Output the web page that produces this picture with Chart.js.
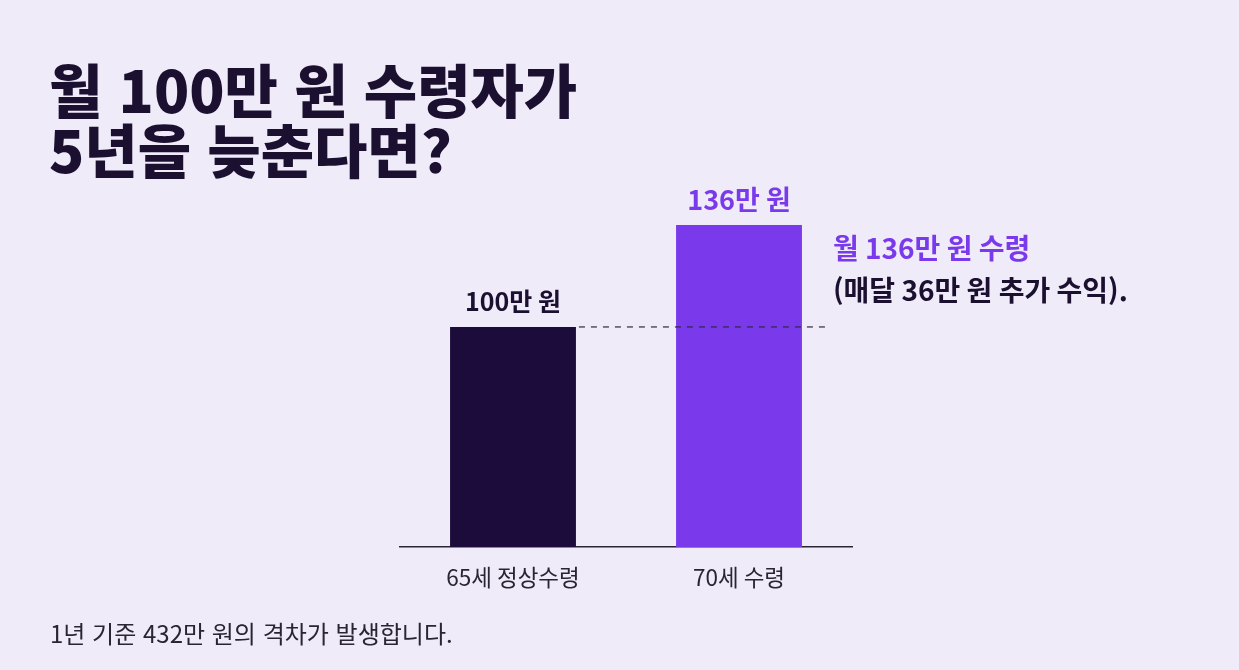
<!DOCTYPE html>
<html lang="ko">
<head>
<meta charset="utf-8">
<script src="https://cdn.jsdelivr.net/npm/chart.js@4"></script>
<style>
  html, body { margin: 0; padding: 0; background: #EFEBF9; }
  #wrap { position: relative; width: 1239px; height: 670px; overflow: hidden; font-family: "Noto Sans CJK KR", "Noto Sans", sans-serif; }
  #chart { position: absolute; left: 0; top: 0; }
  h1 { position: absolute; left: 49px; top: 58px; margin: 0; font-size: 58px; line-height: 60px; font-weight: 900; color: #1B1030; letter-spacing: 0; }
  p { position: absolute; left: 50px; top: 617px; margin: 0; font-size: 24px; line-height: 32px; color: #2A2533; }
</style>
</head>
<body>
<div id="wrap">
  <h1 id="title"></h1>
  <canvas id="chart" width="1239" height="670"></canvas>
  <p id="note"></p>
</div>
<script>
// data (unit: 만 원 per month)
const categories = ["65세 정상수령", "70세 수령"];
const monthly = [100, 136];
const barColors = ["#1B0C3B", "#7A3AEC"];
const labelColors = ["#1B1030", "#7A3AEC"];

const extra = monthly[1] - monthly[0];

document.getElementById("title").innerHTML =
  "월 " + monthly[0] + "만 원 수령자가<br>5년을 늦춘다면?";
document.getElementById("note").textContent =
  "1년 기준 " + extra * 12 + "만 원의 격차가 발생합니다.";

const fontFamily = '"Noto Sans CJK KR", "Noto Sans", sans-serif';

// value labels, dashed reference line and the side note
const labelPlugin = {
  id: "barLabels",
  afterDatasetsDraw(chart) {
    const ctx = chart.ctx;
    const bars = chart.getDatasetMeta(0).data;
    const yScale = chart.scales.y;
    ctx.save();

    // dashed line at the 65세 level
    const yRef = yScale.getPixelForValue(monthly[0]);
    ctx.strokeStyle = "rgba(45, 40, 60, 0.85)";
    ctx.lineWidth = 1.4;
    ctx.setLineDash([6, 6]);
    ctx.beginPath();
    ctx.moveTo(bars[0].x + bars[0].width / 2 + 3, yRef);
    ctx.lineTo(bars[1].x + bars[1].width / 2 + 24, yRef);
    ctx.stroke();
    ctx.setLineDash([]);

    ctx.textAlign = "center";
    ctx.textBaseline = "middle";
    bars.forEach((bar, i) => {
      ctx.fillStyle = labelColors[i];
      ctx.font = (i === 0 ? "700 25px " : "700 27px ") + fontFamily;
      ctx.fillText(monthly[i] + "만 원", bar.x, bar.y - 25);
    });

    const b = bars[1];
    const nx = b.x + b.width / 2 + 31;
    ctx.textAlign = "left";
    ctx.font = "700 28px " + fontFamily;
    ctx.fillStyle = labelColors[1];
    ctx.fillText("월 " + monthly[1] + "만 원 수령", nx, b.y + 23);
    ctx.fillStyle = labelColors[0];
    ctx.fillText("(매달 " + extra + "만 원 추가 수익).", nx, b.y + 65);
    ctx.restore();
  },
};

const ctx = document.getElementById("chart").getContext("2d");
const chart = new Chart(ctx, {
  type: "bar",
  data: {
    labels: categories,
    datasets: [
      {
        data: monthly,
        backgroundColor: barColors,
        barPercentage: 0.557,
        categoryPercentage: 1,
      },
    ],
  },
  options: {
    responsive: false,
    animation: false,
    layout: {
      padding: { left: 400, right: 387, top: 198, bottom: 62 },
    },
    plugins: {
      legend: { display: false },
      tooltip: { enabled: false },
    },
    scales: {
      x: {
        grid: { display: false, drawTicks: false },
        border: { display: true, color: "#2A2533", width: 1.5 },
        ticks: {
          color: "#2A2533",
          padding: 17,
          font: { family: fontFamily, size: 22.5 },
        },
      },
      y: {
        display: false,
        min: 22.35,
        max: 145.5,
      },
    },
  },
  plugins: [labelPlugin],
});
</script>
</body>
</html>
